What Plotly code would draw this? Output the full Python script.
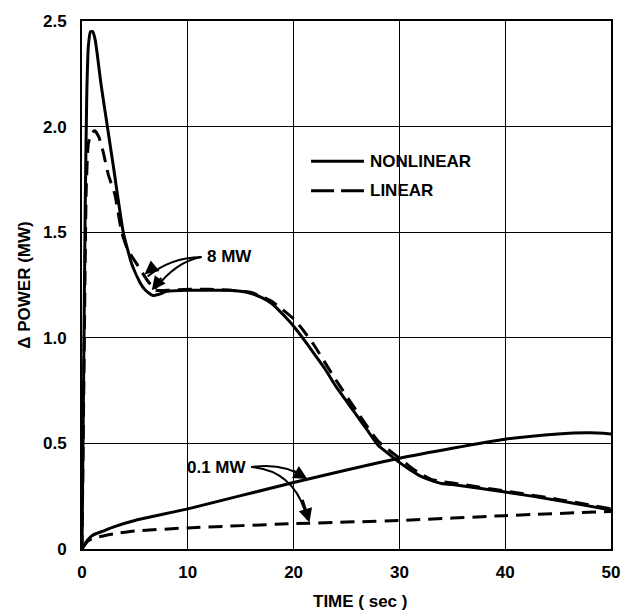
import plotly.graph_objects as go

# ---- data ----
t_nl8 = [0, 0.15, 0.3, 0.45, 0.6, 0.8, 1.0, 1.25, 1.8, 2.4, 3.0, 3.9, 4.7, 5.5, 6.0, 6.7, 7.5, 8, 10, 12, 14, 15, 16, 17, 18, 19, 20, 21, 22, 23, 24, 25, 26, 27, 28, 29, 30, 31, 32, 33, 34, 35, 40, 45, 50]
p_nl8 = [0, 0.8, 1.6, 2.15, 2.38, 2.45, 2.45, 2.41, 2.2, 2.0, 1.80, 1.50, 1.35, 1.26, 1.225, 1.20, 1.21, 1.22, 1.225, 1.225, 1.225, 1.22, 1.21, 1.19, 1.16, 1.11, 1.055, 0.99, 0.92, 0.85, 0.77, 0.70, 0.63, 0.56, 0.49, 0.45, 0.41, 0.375, 0.345, 0.325, 0.31, 0.305, 0.27, 0.23, 0.185]

t_l8 = [0, 0.2, 0.4, 0.6, 0.9, 1.2, 1.6, 2.0, 2.5, 3.1, 3.75, 4.3, 5.3, 6.2, 7, 8, 10, 12, 14, 16, 18, 20, 21, 22, 24, 26, 28, 30, 31, 32, 33, 34, 36, 40, 45, 50]
p_l8 = [0, 0.9, 1.7, 1.92, 1.97, 1.98, 1.95, 1.88, 1.77, 1.68, 1.50, 1.42, 1.34, 1.27, 1.225, 1.225, 1.23, 1.23, 1.225, 1.215, 1.17, 1.09, 1.03, 0.96, 0.80, 0.65, 0.51, 0.43, 0.39, 0.355, 0.33, 0.32, 0.305, 0.275, 0.235, 0.19]

t_nl01 = [0, 0.5, 1, 2, 3, 5, 10, 20, 30, 40, 45, 48, 50]
p_nl01 = [0, 0.04, 0.065, 0.085, 0.105, 0.135, 0.19, 0.315, 0.43, 0.52, 0.545, 0.55, 0.545]

t_l01 = [0, 0.5, 1, 2, 3, 5, 10, 20, 30, 40, 50]
p_l01 = [0, 0.035, 0.05, 0.062, 0.072, 0.085, 0.10, 0.12, 0.135, 0.158, 0.178]

x_ticks = [0, 10, 20, 30, 40, 50]
x_tick_text = ["0", "10", "20", "30", "40", "50"]
y_ticks = [0, 0.5, 1.0, 1.5, 2.0, 2.5]
y_tick_text = ["0", "0.5", "1.0", "1.5", "2.0", "2.5"]
legend_names = ["NONLINEAR", "LINEAR"]

FONT = "Liberation Sans"
DASH = "14px,8px"
TXT = dict(family=FONT, size=17, color="black", weight="bold")

fig = go.Figure()
fig.add_trace(go.Scatter(x=t_nl8, y=p_nl8, mode="lines", name=legend_names[0], showlegend=False,
                         line=dict(color="black", width=3, shape="spline", smoothing=0.5)))
fig.add_trace(go.Scatter(x=t_l8, y=p_l8, mode="lines", name=legend_names[1], showlegend=False,
                         line=dict(color="black", width=3, dash=DASH, shape="spline", smoothing=0.5)))
fig.add_trace(go.Scatter(x=t_nl01, y=p_nl01, mode="lines", showlegend=False,
                         line=dict(color="black", width=3, shape="spline", smoothing=0.6)))
fig.add_trace(go.Scatter(x=t_l01, y=p_l01, mode="lines", showlegend=False,
                         line=dict(color="black", width=3, dash=DASH, shape="spline", smoothing=0.6)))

# curved leader lines for labels
def curve(x0, y0, cx, cy, x1, y1):
    fig.add_shape(type="path", xref="x", yref="y",
                  path=f"M {x0},{y0} Q {cx},{cy} {x1},{y1}",
                  line=dict(color="black", width=2))

def head(x1, y1, x0, y0):
    fig.add_annotation(x=x1, y=y1, ax=x0, ay=y0, xref="x", yref="y", axref="x", ayref="y",
                       text="", showarrow=True, arrowhead=2, arrowsize=1.1, arrowwidth=2.5,
                       arrowcolor="black")

# 8 MW
curve(11.3, 1.383, 8.3, 1.38, 6.2, 1.29)
head(5.9, 1.30, 7.0, 1.345)
curve(11.3, 1.383, 8.8, 1.36, 6.9, 1.23)
head(6.6, 1.225, 7.6, 1.29)
fig.add_annotation(x=11.6, y=1.383, xref="x", yref="y", text="8 MW", showarrow=False,
                   xanchor="left", font=TXT)

# 0.1 MW
curve(16.0, 0.388, 19.0, 0.41, 21.0, 0.34)
head(21.3, 0.332, 19.8, 0.375)
curve(16.0, 0.388, 20.2, 0.37, 21.3, 0.14)
head(21.5, 0.126, 20.8, 0.24)
fig.add_annotation(x=15.8, y=0.388, xref="x", yref="y", text="0.1 MW", showarrow=False,
                   xanchor="right", font=TXT)

# legend (line samples + labels)
fig.add_shape(type="line", xref="paper", yref="paper", x0=0.433, x1=0.533, y0=0.7346, y1=0.7346,
              line=dict(color="black", width=3))
fig.add_shape(type="line", xref="paper", yref="paper", x0=0.433, x1=0.533, y0=0.6785, y1=0.6785,
              line=dict(color="black", width=3, dash="23px,7px"))
fig.add_annotation(x=0.541, y=0.7346, xref="paper", yref="paper", text=legend_names[0],
                   showarrow=False, xanchor="left", yanchor="middle", font=TXT)
fig.add_annotation(x=0.541, y=0.6785, xref="paper", yref="paper", text=legend_names[1],
                   showarrow=False, xanchor="left", yanchor="middle", font=TXT)

# x-axis title
fig.add_annotation(x=0.525, y=-0.1, xref="paper", yref="paper", yanchor="middle",
                   text="TIME ( sec )", showarrow=False, font=TXT)

fig.update_xaxes(range=[0, 50], tickvals=x_ticks, ticktext=x_tick_text,
                 showgrid=True, gridcolor="black", gridwidth=1.2,
                 showline=True, linecolor="black", linewidth=2, mirror=True,
                 ticks="", zeroline=False, ticklabelstandoff=7,
                 tickfont=TXT)
fig.update_yaxes(range=[0, 2.5], tickvals=y_ticks, ticktext=y_tick_text,
                 showgrid=True, gridcolor="black", gridwidth=1.2,
                 showline=True, linecolor="black", linewidth=2, mirror=True,
                 ticks="", zeroline=False, ticklabelstandoff=10,
                 title=dict(text="\u0394 POWER (MW)", standoff=8, font=TXT),
                 tickfont=TXT)

fig.update_layout(
    width=632, height=614,
    margin=dict(l=82, r=19, t=14, b=65),
    paper_bgcolor="white", plot_bgcolor="white",
    showlegend=False,
)

fig.write_html("out.html")
